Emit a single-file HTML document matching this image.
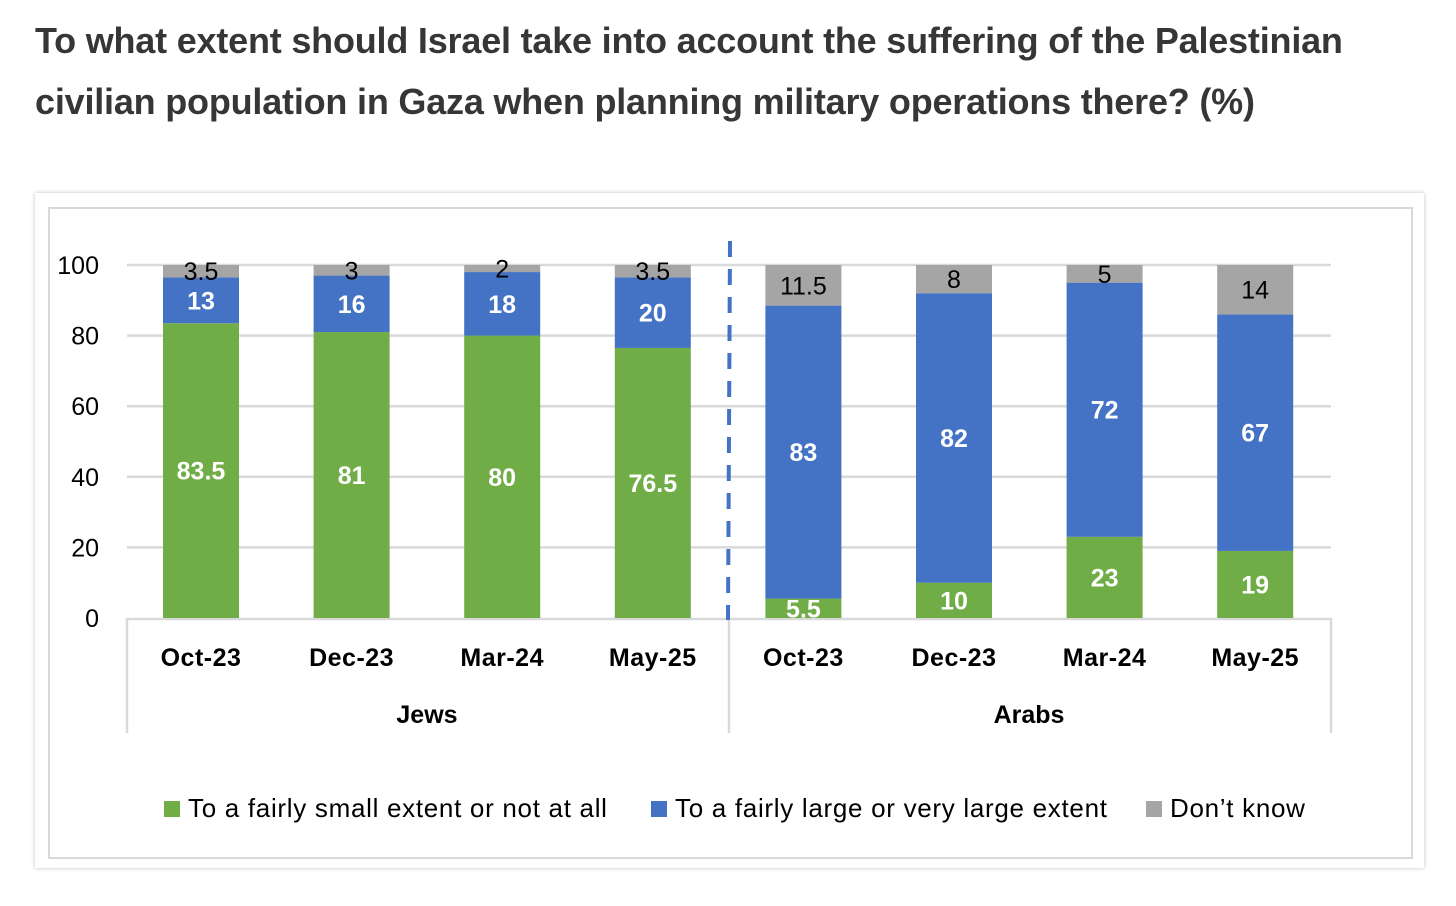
<!DOCTYPE html>
<html><head><meta charset="utf-8"><style>
html,body{margin:0;padding:0;background:#fff;width:1456px;height:906px;overflow:hidden}
.title{position:absolute;left:35px;top:10px;width:1420px;font-family:"Liberation Sans",sans-serif;font-weight:bold;font-size:36px;line-height:61px;color:#363636;letter-spacing:-0.2px;white-space:nowrap}
.card{position:absolute;left:35px;top:193px;width:1389px;height:675px;background:#fff;box-shadow:0 0 4px rgba(0,0,0,0.25)}
.inner{position:absolute;left:48px;top:207px;width:1361px;height:648px;border:2px solid #d9d9d9;box-sizing:content-box}
svg{position:absolute;left:0;top:0}
</style></head><body>
<div class="title">To what extent should Israel take into account the suffering of the Palestinian<br>civilian population in Gaza when planning military operations there? (%)</div>
<div class="card"></div>
<div class="inner"></div>
<svg id="chart" width="1456" height="906" font-family="Liberation Sans, sans-serif"></svg>
<script>
const categories = ["Oct-23","Dec-23","Mar-24","May-25","Oct-23","Dec-23","Mar-24","May-25"];
const groups = ["Jews","Arabs"];
const smallExtent = [83.5,81,80,76.5,5.5,10,23,19];
const largeExtent = [13,16,18,20,83,82,72,67];
const dontKnow = [3.5,3,2,3.5,11.5,8,5,14];
const yTicks = [0,20,40,60,80,100];

const svg = document.getElementById('chart');
const NS = 'http://www.w3.org/2000/svg';
const y0 = 618, yScale = 3.53;
const y = v => y0 - v * yScale;
const x = i => 201 + i * 150.6;
const barW = 76;
function mk(tag, attrs, parent){const e=document.createElementNS(NS,tag);for(const k in attrs)e.setAttribute(k,attrs[k]);(parent||svg).appendChild(e);return e;}

yTicks.forEach(t=>{
  if(t>0){const g=mk('line',{x1:127,x2:1331,y1:y(t),y2:y(t),stroke:'#d9d9d9','stroke-width':2.5});
  
  }
  const l=mk('text',{x:99,y:y(t)+9,'text-anchor':'end','font-size':25,fill:'#000'});
  l.textContent=t;
  
  
});
const ax=mk('line',{x1:127,x2:1331,y1:y0+1,y2:y0+1,stroke:'#d9d9d9','stroke-width':2.5});


[127,729,1331].forEach((sx,k)=>{
  const s=mk('line',{x1:sx,x2:sx,y1:y0,y2:733,stroke:'#d9d9d9','stroke-width':2.5});
  
  
});
const series=[
 {vals:smallExtent,color:'#70ad47',txt:'#fff',bold:true,name:'small'},
 {vals:largeExtent,color:'#4472c4',txt:'#fff',bold:true,name:'large'},
 {vals:dontKnow,color:'#a5a5a5',txt:'#000',bold:false,name:'dontknow'}];
categories.forEach((c,i)=>{
  let base=0;
  series.forEach(s=>{
    const v=s.vals[i];
    const r=mk('rect',{x:x(i)-barW/2,y:y(base+v),width:barW,height:v*yScale,fill:s.color});
    
    
    const t=mk('text',{x:x(i),y:y(base+v/2)+9,'text-anchor':'middle','font-size':25,fill:s.txt,'font-weight':s.bold?'bold':'normal'});
    t.textContent=v;
    
    
    base+=v;
  });
  const cl=mk('text',{x:x(i),y:666,'text-anchor':'middle','font-size':25,'font-weight':'bold',fill:'#000','letter-spacing':0.5});
  cl.textContent=c;
  
  
});
groups.forEach((g,k)=>{
  const t=mk('text',{x:k?1029:427,y:723,'text-anchor':'middle','font-size':25,'font-weight':'bold',fill:'#000'});
  t.textContent=g;
  
  
});
const d=mk('line',{x1:730,x2:728,y1:241,y2:620,stroke:'#4472c4','stroke-width':4,'stroke-dasharray':'16,12'});


const legend=[['To a fairly small extent or not at all','#70ad47',164],['To a fairly large or very large extent','#4472c4',651],['Don’t know','#a5a5a5',1146]];
legend.forEach((l,k)=>{
  const sq=mk('rect',{x:l[2],y:801,width:16,height:16,fill:l[1]});
  
  
  const t=mk('text',{x:l[2]+24,y:817,'font-size':26,fill:'#000','letter-spacing':0.7});
  t.textContent=l[0];
  
  
});
</script>
</body></html>
